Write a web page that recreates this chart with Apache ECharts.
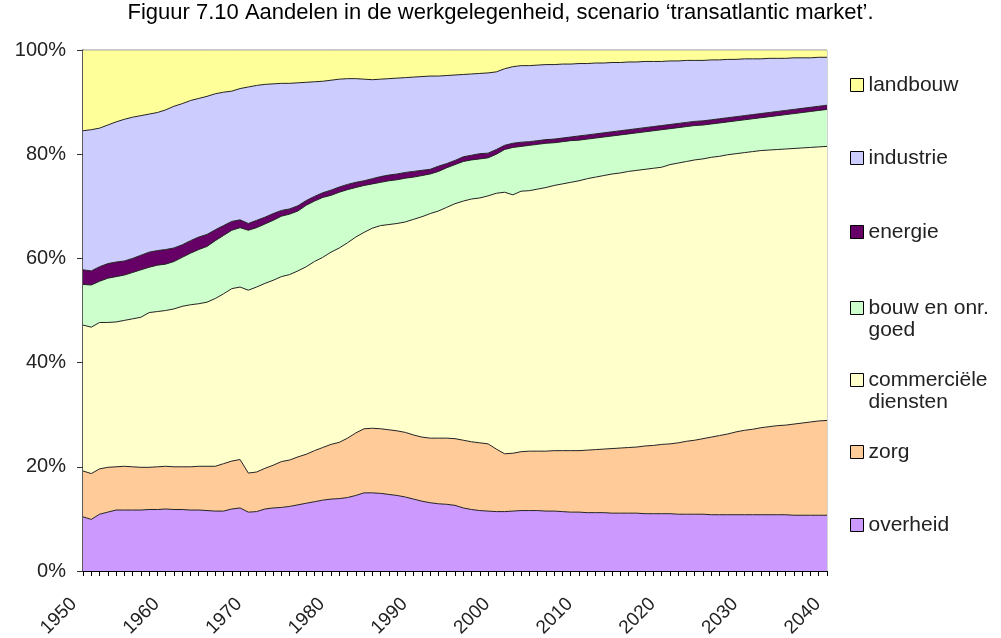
<!DOCTYPE html>
<html>
<head>
<meta charset="utf-8">
<script src="https://cdn.jsdelivr.net/npm/echarts@6/dist/echarts.min.js"></script>
<style>
  html, body { margin: 0; padding: 0; background: #fff; }
  #chart { width: 1001px; height: 638px; }
</style>
</head>
<body>
<div id="chart"></div>
<script>
// jaren 1950 .. 2040
const years = []
for (let y = 1950; y <= 2040; y++) years.push(String(y))

// aandelen in %, per sector (van onder naar boven gestapeld)
const overheid = [
  10.4, 9.9, 10.9, 11.3, 11.7, 11.7, 11.7, 11.7, 11.8, 11.8,
  11.9, 11.8, 11.8, 11.7, 11.7, 11.6, 11.5, 11.5, 11.9, 12.1,
  11.3, 11.4, 11.9, 12.1, 12.2, 12.4, 12.7, 13.0, 13.3, 13.6,
  13.8, 13.9, 14.1, 14.5, 15.0, 15.0, 14.9, 14.7, 14.5, 14.2,
  13.8, 13.4, 13.1, 12.9, 12.8, 12.6, 12.1, 11.8, 11.6, 11.5,
  11.4, 11.4, 11.5, 11.6, 11.6, 11.6, 11.5, 11.5, 11.4, 11.3,
  11.3, 11.2, 11.2, 11.2, 11.1, 11.1, 11.1, 11.1, 11.0, 11.0,
  11.0, 11.0, 10.9, 10.9, 10.9, 10.9, 10.8, 10.8, 10.8, 10.8,
  10.8, 10.8, 10.8, 10.8, 10.8, 10.8, 10.7, 10.7, 10.7, 10.7, 10.7
]
const zorg = [
  8.8, 8.8, 8.7, 8.6, 8.3, 8.4, 8.3, 8.2, 8.1, 8.2,
  8.2, 8.2, 8.2, 8.3, 8.4, 8.5, 8.6, 9.1, 9.2, 9.3,
  7.5, 7.6, 7.8, 8.2, 8.8, 8.9, 9.2, 9.4, 9.8, 10.1,
  10.5, 10.8, 11.4, 12.0, 12.3, 12.4, 12.4, 12.4, 12.4, 12.4,
  12.3, 12.3, 12.4, 12.6, 12.7, 12.8, 13.0, 13.0, 13.0, 12.9,
  12.0, 11.1, 11.1, 11.3, 11.4, 11.4, 11.5, 11.6, 11.7, 11.8,
  11.8, 12.0, 12.1, 12.2, 12.4, 12.5, 12.6, 12.7, 13.0, 13.1,
  13.3, 13.4, 13.7, 14.0, 14.2, 14.5, 14.9, 15.2, 15.5, 15.9,
  16.2, 16.4, 16.7, 16.9, 17.1, 17.2, 17.5, 17.7, 17.9, 18.1, 18.2
]
const commercieel = [
  28.0, 28.1, 28.1, 27.8, 27.8, 28.0, 28.4, 28.8, 29.7, 29.8,
  29.9, 30.3, 30.8, 31.1, 31.2, 31.5, 32.2, 32.6, 33.1, 33.1,
  35.1, 35.5, 35.5, 35.5, 35.5, 35.6, 35.7, 36.0, 36.3, 36.5,
  36.9, 37.3, 37.5, 37.6, 37.7, 38.4, 39.0, 39.4, 39.8, 40.4,
  41.4, 42.3, 43.1, 43.6, 44.3, 45.1, 45.9, 46.6, 47.0, 47.6,
  49.1, 50.2, 49.6, 50.0, 50.0, 50.3, 50.6, 50.9, 51.2, 51.5,
  51.8, 52.1, 52.3, 52.5, 52.7, 52.8, 53.0, 53.1, 53.1, 53.2,
  53.2, 53.6, 53.7, 53.7, 53.8, 53.7, 53.7, 53.6, 53.6, 53.4,
  53.3, 53.3, 53.2, 53.1, 53.0, 53.0, 52.9, 52.8, 52.7, 52.6, 52.6
]
const bouw = [
  7.8, 8.1, 7.9, 8.5, 8.7, 8.7, 8.9, 9.1, 8.7, 8.9,
  8.9, 9.1, 9.4, 9.9, 10.4, 10.7, 11.1, 11.2, 11.2, 11.4,
  11.5, 11.4, 11.4, 11.5, 11.6, 11.6, 11.5, 11.8, 11.6, 11.5,
  10.9, 10.7, 10.2, 9.5, 9.0, 8.5, 8.3, 8.4, 8.4, 8.4,
  8.1, 7.9, 7.6, 7.6, 7.6, 7.5, 7.6, 7.5, 7.5, 7.3,
  7.5, 8.2, 9.1, 8.6, 8.7, 8.6, 8.5, 8.2, 8.1, 8.0,
  7.8, 7.6, 7.5, 7.4, 7.3, 7.3, 7.2, 7.2, 7.2, 7.2,
  7.2, 6.9, 6.8, 6.7, 6.6, 6.5, 6.4, 6.4, 6.3, 6.3,
  6.3, 6.3, 6.3, 6.4, 6.5, 6.6, 6.7, 6.8, 6.9, 7.0, 7.1
]
const energie = [
  2.8, 2.7, 2.8, 2.8, 2.8, 2.7, 2.7, 2.8, 2.9, 2.8,
  2.8, 2.6, 2.4, 2.4, 2.4, 2.3, 2.1, 1.9, 1.7, 1.5,
  1.3, 1.4, 1.3, 1.3, 1.1, 1.0, 1.0, 0.9, 0.9, 0.9,
  1.0, 1.0, 1.0, 1.0, 0.9, 1.0, 1.1, 1.1, 1.1, 1.1,
  1.1, 1.0, 0.9, 1.0, 0.8, 0.8, 0.9, 0.9, 1.0, 0.9,
  0.9, 0.8, 0.8, 0.8, 0.7, 0.7, 0.7, 0.7, 0.7, 0.7,
  0.8, 0.8, 0.8, 0.8, 0.8, 0.8, 0.8, 0.8, 0.8, 0.8,
  0.8, 0.8, 0.8, 0.8, 0.8, 0.8, 0.8, 0.8, 0.8, 0.8,
  0.8, 0.8, 0.8, 0.8, 0.8, 0.8, 0.8, 0.8, 0.8, 0.8, 0.8
]
const industrie = [
  26.7, 27.1, 26.6, 26.6, 26.9, 27.2, 27.1, 26.8, 26.5, 26.5,
  26.8, 27.2, 27.1, 26.9, 26.6, 26.5, 26.1, 25.6, 25.0, 25.2,
  26.2, 25.9, 25.5, 24.9, 24.4, 24.1, 23.6, 22.7, 22.0, 21.4,
  21.1, 20.7, 20.3, 19.9, 19.5, 19.0, 18.7, 18.5, 18.4, 18.2,
  18.1, 18.0, 17.9, 17.3, 16.9, 16.4, 15.8, 15.6, 15.4, 15.4,
  14.9, 14.7, 14.7, 14.7, 14.6, 14.5, 14.4, 14.3, 14.2, 14.0,
  13.9, 13.7, 13.6, 13.4, 13.3, 13.1, 13.0, 12.8, 12.7, 12.5,
  12.3, 12.2, 12.0, 11.9, 11.7, 11.6, 11.5, 11.3, 11.2, 11.0,
  10.9, 10.7, 10.5, 10.4, 10.2, 10.0, 9.9, 9.7, 9.5, 9.4, 9.2
]
const landbouw = [
  15.5, 15.3, 15.0, 14.4, 13.8, 13.3, 12.9, 12.6, 12.3, 12.0,
  11.5, 10.8, 10.3, 9.7, 9.3, 8.9, 8.4, 8.1, 7.9, 7.4,
  7.1, 6.8, 6.6, 6.5, 6.4, 6.4, 6.3, 6.2, 6.1, 6.0,
  5.8, 5.6, 5.5, 5.5, 5.6, 5.7, 5.6, 5.5, 5.4, 5.3,
  5.2, 5.1, 5.0, 5.0, 4.9, 4.8, 4.7, 4.6, 4.5, 4.4,
  4.2, 3.6, 3.2, 3.0, 3.0, 2.9, 2.8, 2.8, 2.7, 2.7,
  2.6, 2.6, 2.5, 2.5, 2.4, 2.4, 2.3, 2.3, 2.2, 2.2,
  2.2, 2.1, 2.1, 2.0, 2.0, 2.0, 1.9, 1.9, 1.8, 1.8,
  1.7, 1.7, 1.7, 1.6, 1.6, 1.6, 1.5, 1.5, 1.5, 1.4, 1.4
]

const yTicks = [0, 20, 40, 60, 80, 100]

const FONT = '"Liberation Sans", Arial, sans-serif'

// volgorde van de stapel (onderaan eerst)
const sectors = [
  { name: 'overheid', data: overheid, color: '#CC99FF' },
  { name: 'zorg', data: zorg, color: '#FFCC99' },
  { name: 'commerciële\ndiensten', data: commercieel, color: '#FFFFCC' },
  { name: 'bouw en onr.\ngoed', data: bouw, color: '#CCFFCC' },
  { name: 'energie', data: energie, color: '#660066' },
  { name: 'industrie', data: industrie, color: '#CCCCFF' },
  { name: 'landbouw', data: landbouw, color: '#FFFF99' }
]

// legenda van boven naar onder, middelpunt van het icoon
const legendCenters = [85, 158, 232, 308, 380, 452, 525]
const LH = 22

// tweeregelige namen: lege regel ervoor zodat het icoon bij de eerste regel staat
const legends = sectors.slice().reverse().map((s, i) => {
  const twoLines = s.name.indexOf('\n') >= 0
  return {
    data: [{ name: s.name, itemStyle: { color: s.color, borderColor: '#000', borderWidth: 1 } }],
    icon: 'rect',
    left: 850,
    top: twoLines ? legendCenters[i] - LH * 1.5 : legendCenters[i] - LH / 2,
    padding: 0,
    itemWidth: 13,
    itemHeight: 13,
    selectedMode: false,
    formatter: name => (twoLines ? '\n' + name : name),
    textStyle: {
      fontFamily: FONT,
      fontSize: 21,
      lineHeight: LH,
      color: '#222'
    }
  }
})

const chart = echarts.init(document.getElementById('chart'))

chart.setOption({
  animation: false,
  backgroundColor: '#fff',
  title: {
    text: 'Figuur 7.10 Aandelen in de werkgelegenheid, scenario ‘transatlantic market’.',
    left: 'center',
    top: 2,
    padding: 0,
    textStyle: { fontFamily: FONT, fontSize: 22, fontWeight: 'normal', color: '#000' }
  },
  legend: legends,
  grid: {
    left: 83,
    right: 174,
    top: 50,
    bottom: 67,
    outerBoundsMode: 'none',
    show: true,
    borderColor: '#a8a8a8',
    borderWidth: 1
  },
  xAxis: {
    type: 'category',
    data: years,
    boundaryGap: false,
    axisLine: { lineStyle: { color: '#000', width: 1 } },
    axisTick: { show: true, interval: 0, length: 5, lineStyle: { color: '#000' } },
    axisLabel: {
      interval: 9,
      rotate: 45,
      margin: 21,
      formatter: '{y|{value}}',
      rich: {
        y: { fontFamily: FONT, fontSize: 19, color: '#222', padding: [0, 13, 0, 0] }
      }
    },
    splitLine: { show: false }
  },
  yAxis: {
    type: 'value',
    min: yTicks[0],
    max: yTicks[yTicks.length - 1],
    interval: 20,
    axisLine: { show: true, lineStyle: { color: '#333', width: 1.5 } },
    axisTick: { show: true, length: 6, lineStyle: { color: '#333' } },
    axisLabel: {
      formatter: '{value}%',
      margin: 17,
      fontFamily: FONT,
      fontSize: 20,
      color: '#222'
    },
    splitLine: { show: false }
  },
  series: sectors.map(s => ({
    name: s.name,
    type: 'line',
    stack: 'totaal',
    data: s.data,
    showSymbol: false,
    symbol: 'none',
    color: s.color,
    lineStyle: { color: s.name === 'landbouw' ? '#a8a8a8' : '#222', width: 1 },
    areaStyle: { color: s.color, opacity: 1 },
    emphasis: { disabled: true }
  }))
})

window.addEventListener('resize', () => {
  chart.resize()
})
</script>
</body>
</html>
